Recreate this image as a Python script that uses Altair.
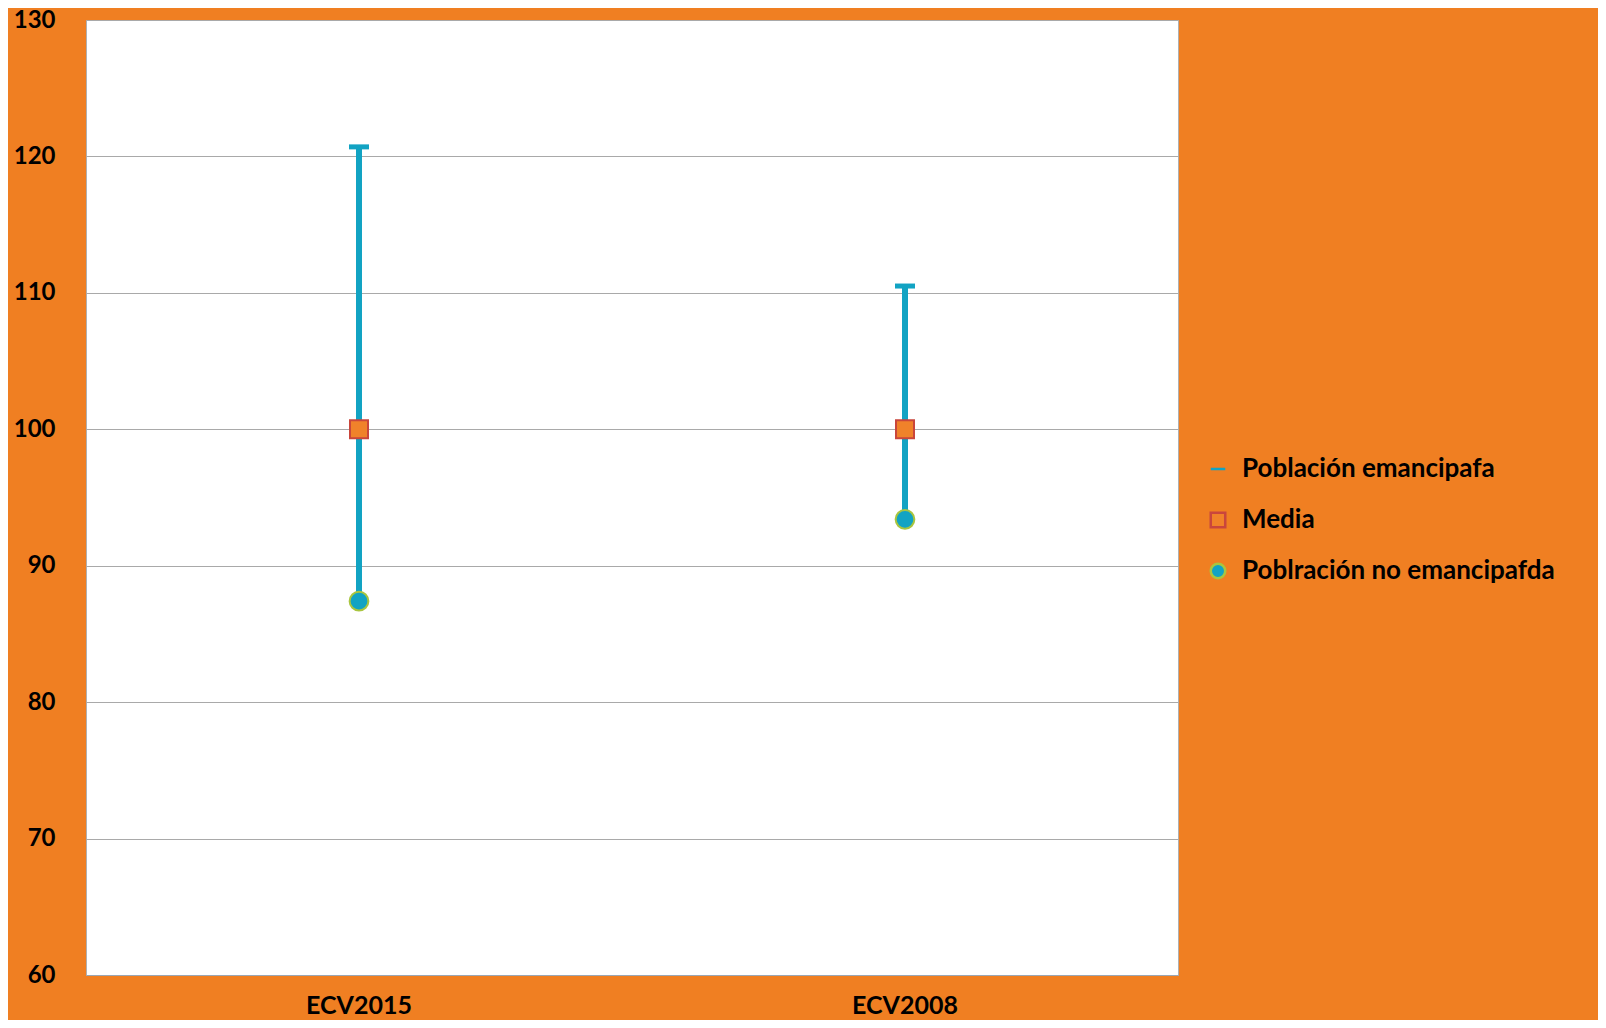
import altair as alt
import pandas as pd

categories = ["ECV2015", "ECV2008"]
emancipada = [120.7, 110.5]
media = [100.0, 100.0]
no_emancipada = [87.4, 93.4]

series_names = ["Población emancipafa", "Media", "Poblración no emancipafda"]

rows = []
for c, hi, m, lo in zip(categories, emancipada, media, no_emancipada):
    rows.append({"cat": c, "serie": series_names[0], "val": hi})
    rows.append({"cat": c, "serie": series_names[1], "val": m})
    rows.append({"cat": c, "serie": series_names[2], "val": lo})
pts = pd.DataFrame(rows)
rng = pd.DataFrame({"cat": categories, "hi": emancipada, "lo": no_emancipada})

BG = "#F07F22"
TEAL = "#12A3C3"
FONT = "Lato"

xenc = alt.X("cat:N", sort=categories, title=None,
             scale=alt.Scale(paddingInner=0, paddingOuter=0),
             axis=alt.Axis(labelAngle=0, ticks=False, labelPadding=18, labelFontSize=25,
                           domainColor="#9AA6B4", domainWidth=1))
yscale = alt.Scale(domain=[60, 130], nice=False, zero=False)
yaxis = alt.Axis(values=[60, 70, 80, 90, 100, 110, 120, 130], ticks=False, labelFontSize=24,
                 domain=False, labelPadding=31, gridColor="#A9A9A9", gridWidth=1)

rules = alt.Chart(rng).mark_rule(color=TEAL, strokeWidth=6).encode(
    x=xenc,
    y=alt.Y("lo:Q", scale=yscale, axis=yaxis, title=None),
    y2="hi:Q",
)

leg = alt.Legend(title=None, orient="none", legendX=1119, legendY=436)
base_enc = dict(
    x=alt.X("cat:N", sort=categories),
    y=alt.Y("val:Q", scale=yscale),
    shape=alt.Shape("serie:N", sort=series_names, legend=leg,
                    scale=alt.Scale(domain=series_names, range=["stroke", "square", "circle"])),
    fill=alt.Fill("serie:N", sort=series_names, legend=leg,
                  scale=alt.Scale(domain=series_names, range=[TEAL, "#F0822A", TEAL])),
    stroke=alt.Stroke("serie:N", sort=series_names, legend=leg,
                      scale=alt.Scale(domain=series_names, range=[TEAL, "#C9463C", "#A9C53F"])),
)

base = alt.Chart(pts)
caps = base.transform_filter(alt.datum.serie == series_names[0]).mark_point(
    filled=True, opacity=1, size=400, strokeWidth=5).encode(**base_enc)
means = base.transform_filter(alt.datum.serie == series_names[1]).mark_point(
    filled=True, opacity=1, size=324, strokeWidth=2).encode(**base_enc)
lows = base.transform_filter(alt.datum.serie == series_names[2]).mark_point(
    filled=True, opacity=1, size=350, strokeWidth=2).encode(**base_enc)

chart = alt.layer(rules, caps, means, lows).properties(
    width=1092, height=955,
    background=BG,
    padding={"left": 78, "top": 12, "right": 420, "bottom": 45},
    autosize=alt.AutoSizeParams(type="none"),
).configure_view(
    fill="white", stroke="#B0B0B0", strokeWidth=1
).configure_axis(
    labelFont=FONT, labelFontWeight="bold", labelColor="black",
).configure_legend(
    labelFont=FONT, labelFontSize=26, labelFontWeight="bold", labelColor="black",
    symbolSize=210, symbolStrokeWidth=2.5, rowPadding=25, labelOffset=11,
    labelLimit=500,
)

chart.save("out.html", embed_options={"renderer": "svg", "actions": False})
